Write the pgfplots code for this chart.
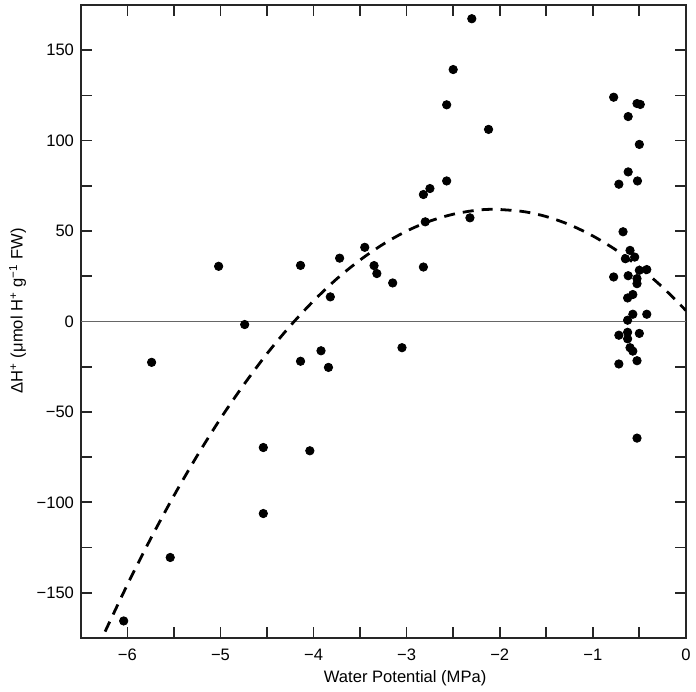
\documentclass[border=0pt]{standalone}
\usepackage{fontspec}
\setmainfont{Liberation Sans}
\usepackage{pgfplots}
\pgfplotsset{compat=1.18}

\begin{document}
\begin{tikzpicture}
\fontsize{8.3}{10}\selectfont
\begin{axis}[
  scale only axis,
  width=303pt, height=317pt,
  xmin=-6.5, xmax=0,
  ymin=-175, ymax=175,
  axis line style={black!85, line width=0.85pt},
  tick align=inside,
  major tick length=5.5pt,
  tick style={black!85, line width=0.85pt},
  xtick={-6,-5.5,...,0},
  xticklabels={−6,,−5,,−4,,−3,,−2,,−1,,0},
  ytick={-150,-125,...,150},
  yticklabels={−150,,−100,,−50,,0,,50,,100,,150},
  /pgf/number format/assume math mode=true,
  xticklabel style={yshift=-2.7pt},
  yticklabel style={xshift=-0.5pt},
  xlabel={Water Potential (MPa)},
  ylabel={ΔH\textsuperscript{+} (μmol H\textsuperscript{+} g\textsuperscript{−1} FW)},
  xlabel style={at={(axis description cs:0.536,-0.071)}, anchor=base},
  ylabel style={at={(axis description cs:-0.0962,0.517)}, anchor=base},
]
% zero line
\addplot[black!60, line width=0.6pt] coordinates {(-6.5,0) (0,0)};

% fitted curve
\addplot[black, line width=1.4pt, dash pattern=on 5.5pt off 4pt, smooth] coordinates {
  (-6.24,-171.5) (-6.0,-145.5) (-5.75,-120.1) (-5.5,-96.3) (-5.25,-74.2)
  (-5.0,-53.7) (-4.75,-35.0) (-4.5,-17.8) (-4.25,-2.4) (-4.0,11.4)
  (-3.75,23.6) (-3.5,34.0) (-3.25,42.8) (-3.0,50.0) (-2.75,55.5)
  (-2.5,59.3) (-2.25,61.5) (-2.05,62.0) (-1.75,60.8) (-1.5,58.0)
  (-1.25,53.5) (-1.0,47.3) (-0.75,39.5) (-0.5,30.0) (-0.25,18.9) (0,6.1)
};

% measurements
\addplot[only marks, mark=*, mark size=2.1pt, black] coordinates {
  (-6.04,-165.6) (-5.74,-22.6) (-5.54,-130.5) (-5.02,30.5) (-4.74,-1.7)
  (-4.54,-69.7) (-4.54,-106.2) (-4.14,31) (-4.14,-22) (-4.04,-71.5)
  (-3.92,-16.2) (-3.84,-25.4) (-3.82,13.6) (-3.72,35) (-3.45,41)
  (-3.35,30.9) (-3.32,26.5) (-3.15,21.3) (-3.05,-14.5) (-2.82,70.2)
  (-2.75,73.5) (-2.80,55.1) (-2.82,30.1) (-2.57,119.8) (-2.57,77.7)
  (-2.50,139.3) (-2.32,57.3) (-2.30,167.4) (-2.12,106.2)
  (-0.776,124) (-0.525,120.5) (-0.49,120) (-0.62,113.3) (-0.50,97.9)
  (-0.62,82.7) (-0.72,75.9) (-0.52,77.7) (-0.675,49.6) (-0.60,39.3)
  (-0.65,34.7) (-0.55,35.6) (-0.50,28.3) (-0.42,28.7) (-0.776,24.6)
  (-0.62,25.3) (-0.525,23.7) (-0.525,20.9) (-0.57,14.9) (-0.626,13)
  (-0.57,4) (-0.626,0.7) (-0.42,4) (-0.72,-7.6) (-0.626,-6)
  (-0.626,-9.6) (-0.50,-6.6) (-0.60,-14.5) (-0.57,-16.4) (-0.525,-21.7)
  (-0.72,-23.5) (-0.525,-64.5)
};
\end{axis}
\path ([shift={(-40.5pt,-25.5pt)}]current axis.south west)
  rectangle ([shift={(4.5pt,2.5pt)}]current axis.north east);
\end{tikzpicture}
\end{document}
